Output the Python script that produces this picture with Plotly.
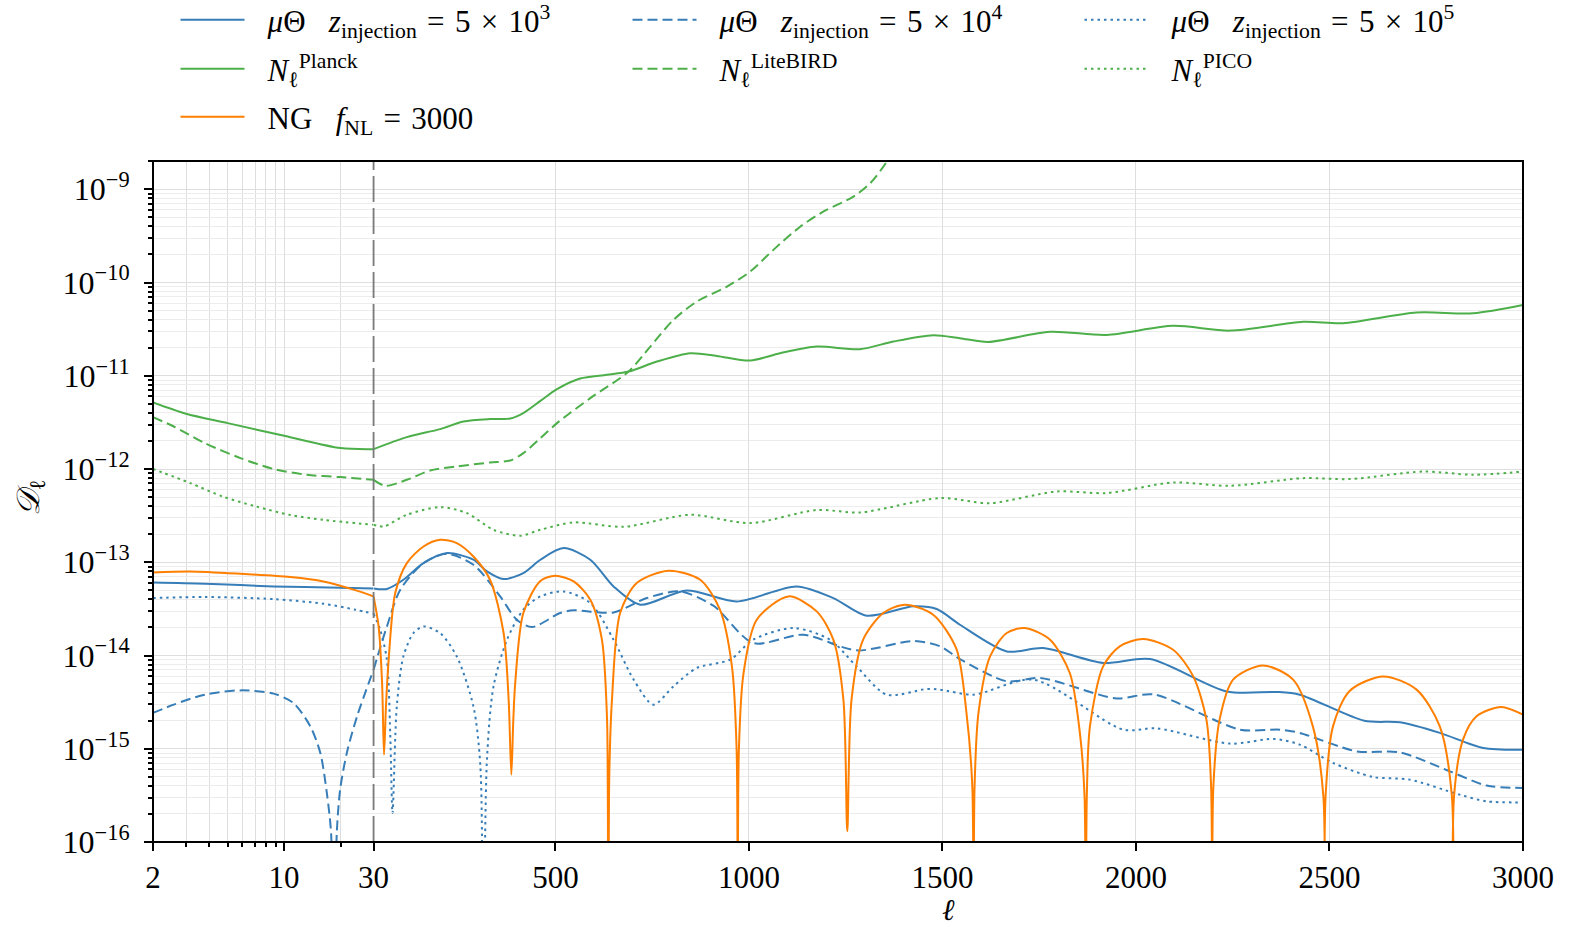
import numpy as np
import plotly.graph_objects as go

# ---------------- data (ell, log10 D_ell) ----------------
mu3_ell = [2, 3.8, 8.8, 19.9, 30, 64.5, 107, 159, 220, 288, 323, 366, 417, 461, 521,
           590, 650, 719, 839, 968, 1123, 1218, 1304, 1425, 1485, 1545, 1666, 1760, 1915,
           2036, 2234, 2363, 2423, 2590, 2682, 2785, 2897, 3000]
mu3_logD = [-13.217, -13.23, -13.259, -13.273, -13.281, -13.287, -13.188, -13.009, -12.902,
            -12.973, -13.098, -13.18, -13.116, -12.973, -12.848, -12.973, -13.259, -13.455,
            -13.302, -13.42, -13.259, -13.384, -13.573, -13.473, -13.502, -13.67, -13.956,
            -13.92, -14.08, -14.038, -14.385, -14.391, -14.42, -14.70, -14.717, -14.83,
            -14.991, -15.01]

mu4_ell = [2, 2.58, 3.77, 5.85, 8.8, 11.2, 13.8, 15.6, 16.9, 17.8, 18.4, 19.1, 19.9, 21.6,
           24.5, 30, 64.5, 99, 159, 220, 288, 357, 400, 439, 512, 547, 650, 736, 822, 908,
           1011, 1140, 1278, 1425, 1494, 1545, 1666, 1752, 1950, 2045, 2269, 2372, 2423,
           2570, 2682, 2811, 2906, 3000]
mu4_logD = [-14.616, -14.527, -14.42, -14.374, -14.409, -14.509, -14.76, -15.045, -15.474,
            -15.90, -17.5, -15.9, -15.438, -15.045, -14.652, -14.152, -13.688, -13.295,
            -13.009, -12.91, -13.027, -13.366, -13.616, -13.695, -13.545, -13.516, -13.538,
            -13.384, -13.313, -13.466, -13.866, -13.777, -13.945, -13.845, -13.902, -14.038,
            -14.277, -14.241, -14.46, -14.417, -14.795, -14.795, -14.83, -15.028, -15.039,
            -15.242, -15.395, -15.42]

mu5_ell = [2, 3.8, 8.8, 16.2, 24, 30, 47, 64.5, 73, 79, 90, 107, 133, 159, 202, 245, 288,
           306, 313, 323, 340, 375, 417, 461, 521, 590, 650, 702, 753, 805, 865, 951, 1011,
           1115, 1209, 1278, 1356, 1459, 1494, 1580, 1735, 1967, 2053, 2243, 2355, 2423,
           2509, 2612, 2707, 2836, 2906, 3000]
mu5_logD = [-13.384, -13.373, -13.395, -13.445, -13.509, -13.552, -13.723, -14.045, -14.83,
            -15.69, -14.546, -14.01, -13.76, -13.688, -13.76, -14.01, -14.546, -15.19, -17.5,
            -15.117, -14.33, -13.83, -13.509, -13.366, -13.313, -13.437, -13.83, -14.259,
            -14.527, -14.33, -14.134, -14.045, -13.83, -13.705, -13.83, -14.117, -14.42,
            -14.359, -14.366, -14.42, -14.259, -14.795, -14.781, -14.945, -14.895, -14.956,
            -15.152, -15.302, -15.331, -15.492, -15.564, -15.575]

planck_ell = [2, 3, 5, 10, 20, 30, 116, 202, 262, 331, 383, 417, 461, 504, 564, 633, 689,
              762, 848, 917, 1003, 1080, 1175, 1287, 1373, 1476, 1545, 1618, 1778, 1924,
              2096, 2243, 2432, 2535, 2725, 2871, 3000]
planck_logD = [-11.287, -11.408, -11.508, -11.644, -11.776, -11.787, -11.658, -11.572,
               -11.491, -11.465, -11.459, -11.40, -11.27, -11.144, -11.03, -10.99, -10.955,
               -10.848, -10.758, -10.787, -10.837, -10.758, -10.687, -10.715, -10.633,
               -10.565, -10.597, -10.637, -10.529, -10.562, -10.465, -10.516, -10.422,
               -10.436, -10.322, -10.329, -10.240]

litebird_ell = [2, 2.58, 3.77, 5.85, 8.8, 13.2, 19.9, 30, 60, 116, 176, 245, 331, 383, 417,
                461, 504, 590, 689, 745, 805, 865, 943, 1003, 1063, 1133, 1192, 1270, 1313,
                1356, 1400]
litebird_logD = [-11.444, -11.544, -11.722, -11.883, -12.0, -12.062, -12.087, -12.116,
                 -12.18, -12.116, -12.016, -11.973, -11.93, -11.909, -11.83, -11.67, -11.508,
                 -11.24, -10.955, -10.687, -10.40, -10.205, -10.044, -9.883, -9.65, -9.40,
                 -9.24, -9.079, -8.936, -8.704, -8.35]

pico_ell = [2, 3.16, 4.7, 7.1, 10.8, 16.2, 30, 56, 116, 202, 271, 340, 409, 461, 547, 676,
            848, 1003, 1175, 1287, 1494, 1623, 1795, 1924, 2096, 2243, 2432, 2552, 2742,
            2871, 3000]
pico_logD = [-12.0, -12.151, -12.295, -12.402, -12.494, -12.545, -12.598, -12.616, -12.491,
             -12.409, -12.473, -12.652, -12.716, -12.652, -12.573, -12.62, -12.491, -12.58,
             -12.44, -12.466, -12.312, -12.366, -12.241, -12.258, -12.145, -12.18, -12.098,
             -12.108, -12.027, -12.062, -12.027]

ng_ell = [2, 3.16, 5.85, 10.8, 16.2, 24.2, 30, 43, 52, 57, 62, 69, 86, 116, 159, 202, 245,
          288, 331, 366, 379, 386, 391, 396, 417, 461, 499, 547, 590, 620, 633, 635, 637,
          639, 646, 667, 710, 792, 874, 925, 956, 968, 971, 974, 986, 1020, 1102, 1175,
          1218, 1244, 1254, 1265, 1295, 1347, 1403, 1476, 1536, 1562, 1577, 1580, 1583,
          1593, 1623, 1666, 1713, 1778, 1829, 1855, 1867, 1870, 1873, 1881, 1915, 1958,
          2019, 2096, 2148, 2182, 2194, 2197, 2200, 2216, 2251, 2328, 2406, 2457, 2484,
          2487, 2490, 2509, 2552, 2639, 2725, 2785, 2816, 2819, 2822, 2845, 2880, 2944, 3000]
ng_logD = [-13.109, -13.098, -13.123, -13.159, -13.206, -13.302, -13.366, -13.688, -14.295,
           -15.063, -14.55, -14.045, -13.33, -13.009, -12.831, -12.759, -12.794, -12.938,
           -13.188, -13.759, -14.474, -15.278, -14.7, -14.295, -13.545, -13.2, -13.145,
           -13.206, -13.402, -13.83, -14.652, -15.3, -17.5, -15.3, -14.474, -13.545, -13.223,
           -13.091, -13.188, -13.509, -14.117, -15.0, -17.5, -15.0, -14.188, -13.616, -13.366,
           -13.527, -13.83, -14.474, -15.885, -14.474, -13.83, -13.545, -13.455, -13.563,
           -13.93, -14.616, -15.4, -17.5, -15.4, -14.616, -14.01, -13.759, -13.705, -13.83,
           -14.188, -14.83, -15.5, -17.5, -15.5, -14.76, -14.117, -13.902, -13.823, -13.938,
           -14.224, -14.688, -15.4, -17.5, -15.4, -14.688, -14.259, -14.106, -14.259, -14.76,
           -15.5, -17.5, -15.5, -14.76, -14.38, -14.224, -14.366, -14.76, -15.5, -17.5, -15.5,
           -14.902, -14.652, -14.552, -14.634]

x_ticks_log = [2, 10]
x_minor_log = [3, 4, 5, 6, 7, 8, 9, 20]
x_ticks_lin = [30, 500, 1000, 1500, 2000, 2500, 3000]
y_exponents = list(range(-16, -8))

# ---------------- styling ----------------
BLUE, GREEN, ORANGE = '#377eb8', '#4daf4a', '#ff7f00'
DASH = {'solid': 'solid', 'dash': '10px,5px', 'dot': '2.5px,4px'}
FONT = 'Liberation Serif'
GRID = '#dedede'
GRID_MINOR = '#ececec'
L_SPLIT = 30
LOG_FRAC = 0.161
W, H = 1573, 927
ITEMW = 64
COLW = 450                    # column pitch of the legend in px

PAD = '\u2002\u200a'          # gap between legend line and label
SP = '\u2004'                 # math-like spacing around relations
series = [
    (f'{PAD}<i>μ</i>Θ\u2002\u2005<i>z</i><sub>injection</sub>{SP}={SP}5{SP}×{SP}10<sup>3</sup>', mu3_ell, mu3_logD, BLUE, 'solid', 'legend'),
    (f'{PAD}<i>μ</i>Θ\u2002\u2005<i>z</i><sub>injection</sub>{SP}={SP}5{SP}×{SP}10<sup>4</sup>', mu4_ell, mu4_logD, BLUE, 'dash', 'legend'),
    (f'{PAD}<i>μ</i>Θ\u2002\u2005<i>z</i><sub>injection</sub>{SP}={SP}5{SP}×{SP}10<sup>5</sup>', mu5_ell, mu5_logD, BLUE, 'dot', 'legend'),
    (f'{PAD}<i>N</i><sub>ℓ</sub><sup>Planck</sup>', planck_ell, planck_logD, GREEN, 'solid', 'legend2'),
    (f'{PAD}<i>N</i><sub>ℓ</sub><sup>LiteBIRD</sup>', litebird_ell, litebird_logD, GREEN, 'dash', 'legend2'),
    (f'{PAD}<i>N</i><sub>ℓ</sub><sup>PICO</sup>', pico_ell, pico_logD, GREEN, 'dot', 'legend2'),
    (f'{PAD}NG\u2002\u2005<i>f</i><sub>NL</sub>{SP}={SP}3000', ng_ell, ng_logD, ORANGE, 'solid', 'legend3'),
]

fig = go.Figure()
for part in ('lin', 'log'):
    for name, ell, logD, color, dash, leg in series:
        ell = np.asarray(ell, dtype=float)
        D = 10.0 ** np.asarray(logD, dtype=float)
        mask = ell >= L_SPLIT if part == 'lin' else ell <= L_SPLIT
        fig.add_trace(go.Scatter(
            x=ell[mask], y=D[mask], mode='lines', name=name, legendgroup=name,
            legend=leg, showlegend=(part == 'lin'),
            xaxis='x2' if part == 'lin' else 'x', yaxis='y',
            line=dict(color=color, width=2, dash=DASH[dash], shape='spline', smoothing=0.8),
        ))

tick_common = dict(ticks='outside', ticklen=8, tickwidth=1.5, tickcolor='black',
                   zeroline=False, showline=False, automargin=False)
XTICKFONT = dict(family=FONT, size=31, color='black')
YTICKFONT = dict(family=FONT, size=32, color='black')

minor_y = [m * 10.0 ** k for k in range(-17, -8) for m in range(2, 10)]


def legend_row(center_px):
    return dict(orientation='h', xref='container', yref='container',
                x=175.5 / W, y=1 - center_px / H, xanchor='left', yanchor='middle',
                entrywidth=COLW - ITEMW - 13, entrywidthmode='pixels', itemwidth=ITEMW,
                traceorder='normal', font=dict(family=FONT, size=31, color='black'),
                bgcolor='rgba(0,0,0,0)', borderwidth=0)


fig.update_layout(
    width=W, height=H,
    margin=dict(l=153, r=50, t=161, b=85, autoexpand=False),
    paper_bgcolor='white', plot_bgcolor='white',
    font=dict(family=FONT, size=30, color='black'),
    legend=legend_row(20),
    legend2=legend_row(69),
    legend3=legend_row(117),
    xaxis=dict(type='log', domain=[0, LOG_FRAC], anchor='y',
               range=[np.log10(2), np.log10(30)],
               tickvals=x_ticks_log, ticktext=[str(v) for v in x_ticks_log],
               showgrid=True, gridcolor=GRID, ticklabelstandoff=0, tickfont=XTICKFONT,
               minor=dict(tickvals=x_minor_log, ticks='outside', ticklen=4,
                          tickcolor='black', showgrid=True, gridcolor=GRID),
               **tick_common),
    xaxis2=dict(domain=[LOG_FRAC, 1], anchor='y', range=[30, 3000],
                tickvals=x_ticks_lin, ticktext=[str(v) for v in x_ticks_lin],
                showgrid=True, gridcolor=GRID, ticklabelstandoff=0, tickfont=XTICKFONT,
                **tick_common),
    yaxis=dict(type='log', anchor='x', range=[-16, -8.697],
               tickvals=[10.0 ** e for e in y_exponents],
               ticktext=[f'10<sup>−{-e}</sup>' for e in y_exponents],
               showgrid=True, gridcolor=GRID, ticklabelstandoff=8, tickfont=YTICKFONT,
               minor=dict(tickvals=minor_y, ticks='outside', ticklen=4, tickcolor='black',
                          showgrid=True, gridcolor=GRID_MINOR),
               **tick_common),
    shapes=[
        dict(type='line', xref='paper', yref='paper', x0=LOG_FRAC, x1=LOG_FRAC, y0=0, y1=1,
             line=dict(color='#7a7a7a', width=1.8, dash='26px,6px'), layer='above'),
        dict(type='rect', xref='paper', yref='paper', x0=0, x1=1, y0=0, y1=1,
             line=dict(color='black', width=2), layer='above'),
    ],
    annotations=[
        dict(text='<i>𝒟</i><sub>ℓ</sub>', xref='paper', yref='paper', x=-0.0895, y=0.5054,
             xanchor='center', yanchor='middle', textangle=-90, showarrow=False,
             font=dict(family=FONT, size=32, color='black')),
        dict(text='<i>ℓ</i>', xref='x2 domain', yref='paper', x=0.5, y=-0.0985,
             xanchor='center', yanchor='middle', showarrow=False,
             font=dict(family=FONT, size=30, color='black')),
    ],
)

fig.write_html('out.html')
